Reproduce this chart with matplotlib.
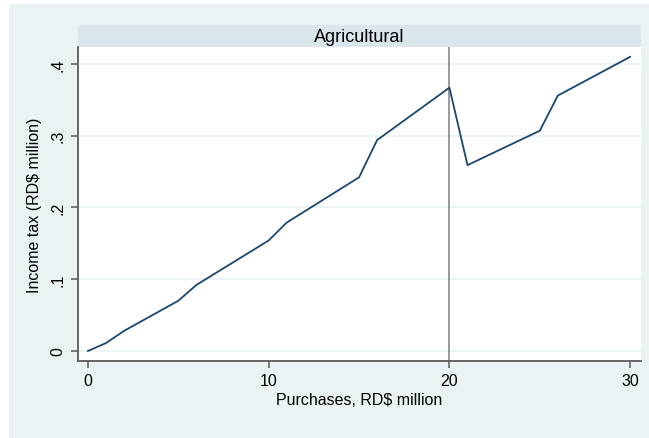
import matplotlib.pyplot as plt
from matplotlib.patches import Rectangle

plt.rcParams['font.family'] = ['Liberation Sans', 'DejaVu Sans']

# Datos
purchases = [0, 1, 2, 5, 6, 10, 11, 15, 16, 20, 21, 25, 26, 30]
income_tax = [0.0, 0.011, 0.028, 0.070, 0.092, 0.154, 0.179, 0.242, 0.294,
              0.367, 0.259, 0.307, 0.356, 0.410]
x_ticks = [0, 10, 20, 30]
y_ticks = [0, 0.1, 0.2, 0.3, 0.4]
y_tick_labels = ['0', '.1', '.2', '.3', '.4']
threshold = 20
panel_title = "Agricultural"

W, H = 649, 439
fig = plt.figure(figsize=(W / 100, H / 100), dpi=100, facecolor='white')

# fondo estilo Stata
fig.patches.append(Rectangle((9 / W, 0), (W - 9) / W, (H - 5) / H,
                             transform=fig.transFigure, facecolor='#eaf2f3',
                             edgecolor='none', zorder=-10))
# franja del titulo
fig.patches.append(Rectangle((78 / W, 1 - 48 / H), (641 - 78) / W, 22 / H,
                             transform=fig.transFigure, facecolor='#d9e6eb',
                             edgecolor='none', zorder=-9))
fig.text((78 + 641) / 2 / W, 1 - 37 / H, panel_title, ha='center', va='center',
         fontsize=13, color='black')

ax = fig.add_axes([78 / W, 1 - 362 / H, (641 - 78) / W, (362 - 48) / H])
ax.set_facecolor('white')
ax.plot(purchases, income_tax, color='#1a476f', lw=1.3, zorder=3)
ax.axvline(threshold, color='#7f7f7f', lw=1.1, zorder=2)

ax.set_xlim(-0.55, 30.6)
ax.set_ylim(-0.014, 0.4237)
ax.set_xticks(x_ticks)
ax.set_yticks(y_ticks)
ax.set_yticklabels(y_tick_labels, rotation=90, va='center')
ax.grid(axis='y', color='#eaf2f3', lw=1.3)
ax.set_axisbelow(True)

for side in ['top', 'right']:
    ax.spines[side].set_visible(False)
for side in ['left', 'bottom']:
    ax.spines[side].set_color('#5a5a5a')
    ax.spines[side].set_linewidth(1.3)
ax.tick_params(colors='#5a5a5a', width=1.1, length=5, labelcolor='black',
               labelsize=11.5)
ax.tick_params(axis='y', pad=4)

ax.set_xlabel("Purchases, RD$ million", fontsize=11.5, labelpad=3)
ax.set_ylabel("Income tax (RD$ million)", fontsize=11.5, labelpad=6)

fig.savefig('out.png', dpi=100, facecolor=fig.get_facecolor())
